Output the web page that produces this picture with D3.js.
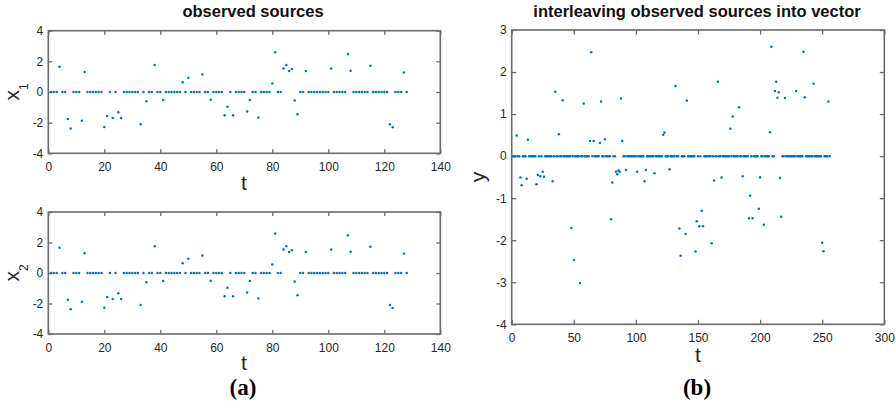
<!DOCTYPE html>
<html>
<head>
<meta charset="utf-8">
<script src="https://cdn.jsdelivr.net/npm/d3@7"></script>
<style>
  body { margin: 0; background: #fff; }
  svg { display: block; }
</style>
</head>
<body>
<svg id="fig" width="896" height="408"></svg>
<script>
// Observed source 1, samples t = 1..128
const x1 = [
  0, 0, 0, 1.65, 0, 0, -1.76, -2.38, 0, 0,
  0, -1.88, 1.30, 0, 0, 0, 0, 0, 0, -2.28,
  -1.57, 0, -1.70, 0, -1.32, -1.70, 0, 0, 0, 0,
  0, 0, -2.10, 0, -0.60, 0, 0, 1.76, 0, 0,
  -0.52, 0, 0, 0, 0, 0, 0, 0.64, 0, 0.93,
  0, 0, 0, 0, 1.15, 0, 0, -0.50, 0, 0,
  0, 0, -1.52, -0.97, 0, -1.52, 0, 0, 0, 0,
  -1.28, -0.52, 0, 0, -1.67, 0, 0, 0, 0, 0.56,
  2.59, 0, 0, 1.54, 1.76, 1.37, 1.50, -0.55, -1.46, 0,
  0, 1.37, 0, 0, 0, 0, 0, 0, 0, 0,
  1.54, 0, 0, 0, 0, 0, 2.48, 1.39, 0, 0,
  0, 0, 0, 0, 1.72, 0, 0, 0, 0, 0,
  0, -2.10, -2.30, 0, 0, 0, 1.28, 0
];

// Observed source 2, samples t = 1..128
const x2 = [
  0, 0, 0, 1.65, 0, 0, -1.76, -2.38, 0, 0,
  0, -1.88, 1.30, 0, 0, 0, 0, 0, 0, -2.28,
  -1.57, 0, -1.70, 0, -1.32, -1.70, 0, 0, 0, 0,
  0, 0, -2.10, 0, -0.60, 0, 0, 1.76, 0, 0,
  -0.52, 0, 0, 0, 0, 0, 0, 0.64, 0, 0.93,
  0, 0, 0, 0, 1.15, 0, 0, -0.50, 0, 0,
  0, 0, -1.52, -0.97, 0, -1.52, 0, 0, 0, 0,
  -1.28, -0.52, 0, 0, -1.67, 0, 0, 0, 0, 0.56,
  2.59, 0, 0, 1.54, 1.76, 1.37, 1.50, -0.55, -1.46, 0,
  0, 1.37, 0, 0, 0, 0, 0, 0, 0, 0,
  1.54, 0, 0, 0, 0, 0, 2.48, 1.39, 0, 0,
  0, 0, 0, 0, 1.72, 0, 0, 0, 0, 0,
  0, -2.10, -2.30, 0, 0, 0, 1.28, 0
];

// Combined vector y, samples t = 1..256
const yVec = [
  0, 0, 0, 0.49, 0, 0, -0.51, -0.69, 0, 0,
  0, -0.54, 0.39, 0, 0, 0, 0, 0, 0, -0.67,
  -0.45, 0, -0.48, 0, -0.37, -0.49, 0, 0, 0, 0,
  0, 0, -0.60, 0, 1.53, 0, 0, 0.52, 0, 0,
  1.33, 0, 0, 0, 0, 0, 0, -1.71, 0, -2.47,
  0, 0, 0, 0, -3.02, 0, 0, 1.25, 0, 0,
  0, 0, 0.36, 2.47, 0, 0.36, 0, 0, 0, 0,
  0.31, 1.30, 0, 0, 0.40, 0, 0, 0, 0, -1.50,
  -0.63, 0, 0, -0.37, -0.43, -0.34, -0.37, 1.37, 0.36, 0,
  0, -0.33, 0, 0, 0, 0, 0, 0, 0, 0,
  -0.37, 0, 0, 0, 0, 0, -0.60, -0.33, 0, 0,
  0, 0, 0, 0, -0.41, 0, 0, 0, 0, 0,
  0, 0.51, 0.56, 0, 0, 0, -0.31, 0,
  0, 0, 0, 1.67, 0, 0, -1.72, -2.37, 0, 0,
  0, -1.85, 1.32, 0, 0, 0, 0, 0, 0, -2.27,
  -1.55, 0, -1.67, 0, -1.30, -1.67, 0, 0, 0, 0,
  0, 0, -2.07, 0, -0.58, 0, 0, 1.77, 0, 0,
  -0.51, 0, 0, 0, 0, 0, 0, 0.65, 0, 0.94,
  0, 0, 0, 0, 1.16, 0, 0, -0.48, 0, 0,
  0, 0, -1.48, -0.94, 0, -1.48, 0, 0, 0, 0,
  -1.25, -0.50, 0, 0, -1.63, 0, 0, 0, 0, 0.57,
  2.60, 0, 0, 1.55, 1.77, 1.39, 1.52, -0.52, -1.44, 0,
  0, 1.38, 0, 0, 0, 0, 0, 0, 0, 0,
  1.55, 0, 0, 0, 0, 0, 2.48, 1.40, 0, 0,
  0, 0, 0, 0, 1.72, 0, 0, 0, 0, 0,
  0, -2.06, -2.26, 0, 0, 0, 1.30, 0
];

const tSources = d3.range(1, x1.length + 1);
const tVector = d3.range(1, yVec.length + 1);

const sourceXTicks = [0, 20, 40, 60, 80, 100, 120, 140];
const sourceYTicks = [-4, -2, 0, 2, 4];
const vectorXTicks = [0, 50, 100, 150, 200, 250, 300];
const vectorYTicks = [-4, -3, -2, -1, 0, 1, 2, 3];

const svg = d3.select("#fig");
const FONT = "'Liberation Sans', Arial, Helvetica, sans-serif";
const AXIS_COLOR = "#6a6a6a";
const TEXT_COLOR = "#262626";
const DOT_COLOR = "#0072BD";
// plain hyphen-minus for negative tick values
const plainInt = d => String(d);

function drawAxes(box, xDomain, yDomain, xTicks, yTicks, ts, vs, tickLen) {
  const x = d3.scaleLinear().domain(xDomain).range([box.left, box.right]);
  const y = d3.scaleLinear().domain(yDomain).range([box.bottom, box.top]);
  const g = svg.append("g");

  const styleAxis = sel => {
    sel.select(".domain").remove();
    sel.selectAll(".tick line").attr("stroke", AXIS_COLOR).attr("stroke-width", 1.3);
    sel.selectAll(".tick text")
      .attr("fill", TEXT_COLOR)
      .style("font-family", FONT)
      .style("font-size", "12px");
  };

  g.append("g").attr("transform", `translate(0,${box.bottom})`)
    .call(d3.axisBottom(x).tickValues(xTicks).tickFormat(plainInt)
      .tickSize(-tickLen).tickSizeOuter(0).tickPadding(9))
    .call(styleAxis);
  g.append("g").attr("transform", `translate(0,${box.top})`)
    .call(d3.axisTop(x).tickValues(xTicks).tickFormat("")
      .tickSize(-tickLen).tickSizeOuter(0))
    .call(styleAxis);
  g.append("g").attr("transform", `translate(${box.left},0)`)
    .call(d3.axisLeft(y).tickValues(yTicks).tickFormat(plainInt)
      .tickSize(-tickLen).tickSizeOuter(0).tickPadding(5))
    .call(styleAxis);
  g.append("g").attr("transform", `translate(${box.right},0)`)
    .call(d3.axisRight(y).tickValues(yTicks).tickFormat("")
      .tickSize(-tickLen).tickSizeOuter(0))
    .call(styleAxis);

  g.append("rect")
    .attr("x", box.left).attr("y", box.top)
    .attr("width", box.right - box.left).attr("height", box.bottom - box.top)
    .attr("fill", "none").attr("stroke", AXIS_COLOR).attr("stroke-width", 1.6);

  g.append("g").selectAll("circle")
    .data(ts.map((t, i) => [t, vs[i]]))
    .join("circle")
    .attr("cx", d => x(d[0]))
    .attr("cy", d => y(d[1]))
    .attr("r", 1.25)
    .attr("fill", DOT_COLOR);
  return { x, y };
}

function yLabel(cx, cy, main, sub, size) {
  const t = svg.append("text")
    .attr("transform", `translate(${cx},${cy}) rotate(-90)`)
    .attr("text-anchor", "middle")
    .attr("fill", TEXT_COLOR)
    .style("font-family", FONT)
    .style("font-size", size + "px");
  t.append("tspan").text(main);
  if (sub) t.append("tspan").attr("dy", 9).style("font-size", "12px").text(sub);
}

function textAt(x, y, str, font, size, weight, color) {
  svg.append("text")
    .attr("x", x).attr("y", y)
    .attr("text-anchor", "middle")
    .attr("fill", color || TEXT_COLOR)
    .style("font-family", font)
    .style("font-size", size + "px")
    .style("font-weight", weight || "normal")
    .text(str);
}

// (a) top: first observed source
const boxA1 = { left: 48.3, right: 440.3, top: 30.7, bottom: 153.3 };
drawAxes(boxA1, [0, 140], [-4, 4], sourceXTicks, sourceYTicks, tSources, x1, 4);
// (a) bottom: second observed source
const boxA2 = { left: 48.3, right: 440.3, top: 212, bottom: 334 };
drawAxes(boxA2, [0, 140], [-4, 4], sourceXTicks, sourceYTicks, tSources, x2, 4);
// (b) interleaved vector
const boxB = { left: 511.7, right: 884.3, top: 30, bottom: 324.3 };
drawAxes(boxB, [0, 300], [-4, 3], vectorXTicks, vectorYTicks, tVector, yVec, 4.5);

// Titles
textAt(253, 17, "observed sources", FONT, 16.5, "bold", "#111");
textAt(697, 17, "interleaving observed sources into vector", FONT, 16.5, "bold", "#111");

// Axis labels
yLabel(19, 92, "x", "1", 21);
yLabel(19, 273, "x", "2", 21);
yLabel(485, 177, "y", null, 21);
textAt(244, 190, "t", FONT, 21);
textAt(244, 370, "t", FONT, 21);
textAt(698, 362, "t", FONT, 21);

// Panel tags
const SERIF = "'Liberation Serif', 'Times New Roman', Times, serif";
textAt(243, 395, "(a)", SERIF, 23, "bold", "#000");
textAt(697, 395, "(b)", SERIF, 23, "bold", "#000");
</script>
</body>
</html>
